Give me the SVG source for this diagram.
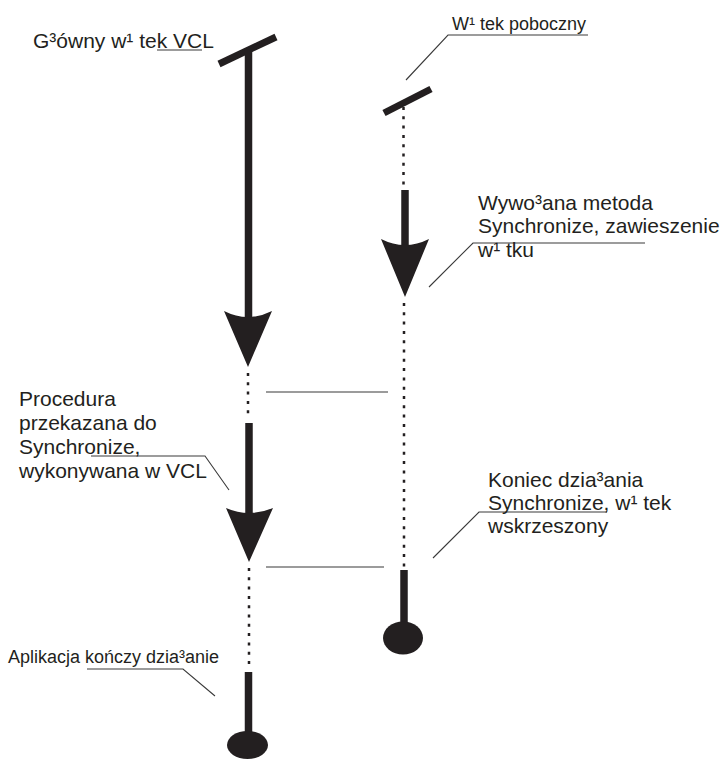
<svg xmlns="http://www.w3.org/2000/svg" width="725" height="760" viewBox="0 0 725 760">
  <style>
    .lbl { font-family: "Liberation Sans", Arial, sans-serif; font-size: 21px; fill: #231f20; }
    .sm { font-size: 18px; }
    .bar { stroke: #231f20; stroke-width: 7; fill: none; }
    .shaft { stroke: #231f20; stroke-width: 7.5; fill: none; }
    .dots { stroke: #231f20; stroke-width: 2.5; stroke-dasharray: 3 6.3; fill: none; }
    .head, .end { fill: #231f20; stroke: none; }
    .sync { stroke: #7a7a7a; stroke-width: 1.6; fill: none; }
    .lead { stroke: #3a3a3a; stroke-width: 1.1; fill: none; }
  </style>
  <rect width="725" height="760" fill="#ffffff"/>

  <!-- main (VCL) thread -->
  <g id="main-thread">
    <line class="bar" x1="219" y1="64" x2="276" y2="37"/>
    <line class="shaft" x1="248.5" y1="50" x2="248.5" y2="318"/>
    <path class="head" d="M224,311 L248,367 L272,311 Q248,323 224,311 Z"/>
    <line class="dots" x1="248" y1="373" x2="248" y2="418"/>
    <line class="shaft" x1="249" y1="423" x2="249" y2="514"/>
    <path class="head" d="M226,508 L249,562 L273,508 Q249,518 226,508 Z"/>
    <line class="dots" x1="249" y1="568" x2="249" y2="668"/>
    <line class="shaft" x1="248.5" y1="672" x2="248.5" y2="740"/>
    <ellipse class="end" cx="247.5" cy="745" rx="20.5" ry="14"/>
  </g>

  <!-- worker thread -->
  <g id="worker-thread">
    <line class="bar" x1="384" y1="113" x2="431" y2="89"/>
    <line class="dots" x1="403.5" y1="107" x2="403.5" y2="188"/>
    <line class="shaft" x1="405" y1="190" x2="405" y2="246"/>
    <path class="head" d="M381,239 L405,297 L429,239 Q405,251 381,239 Z"/>
    <line class="dots" x1="404" y1="303" x2="404" y2="568"/>
    <line class="shaft" x1="404" y1="570" x2="404" y2="630"/>
    <ellipse class="end" cx="403" cy="638" rx="20" ry="16.5"/>
  </g>

  <!-- synchronisation marks and label leaders -->
  <g id="connectors">
    <line class="sync" x1="266" y1="392" x2="388" y2="392"/>
    <line class="sync" x1="266" y1="567" x2="384" y2="567"/>
    <polyline class="lead" points="157,50 202,50"/>
    <polyline class="lead" points="588,35 448,35 406,80"/>
    <polyline class="lead" points="645,243 473,243 429,287"/>
    <polyline class="lead" points="91,456 205,456 229,490"/>
    <polyline class="lead" points="607,512 479,512 433,558"/>
    <polyline class="lead" points="87,669 183,669 215,696"/>
  </g>

  <g id="label-main">
    <text class="lbl" x="33" y="48">G³ówny w¹ tek VCL</text>
  </g>
  <g id="label-worker">
    <text class="lbl sm" x="452" y="30">W¹ tek poboczny</text>
  </g>
  <g id="label-suspend">
    <text class="lbl" x="478" y="210">Wywo³ana metoda</text>
    <text class="lbl" x="478" y="233">Synchronize, zawieszenie</text>
    <text class="lbl" x="478" y="257">w¹ tku</text>
  </g>
  <g id="label-procedure">
    <text class="lbl" x="19" y="406">Procedura</text>
    <text class="lbl" x="19" y="430">przekazana do</text>
    <text class="lbl" x="19" y="454">Synchronize,</text>
    <text class="lbl" x="19" y="478">wykonywana w VCL</text>
  </g>
  <g id="label-resume">
    <text class="lbl" x="488" y="487">Koniec dzia³ania</text>
    <text class="lbl" x="488" y="510">Synchronize, w¹ tek</text>
    <text class="lbl" x="488" y="533">wskrzeszony</text>
  </g>
  <g id="label-end">
    <text class="lbl sm" x="8" y="663">Aplikacja kończy dzia³anie</text>
  </g>
</svg>
